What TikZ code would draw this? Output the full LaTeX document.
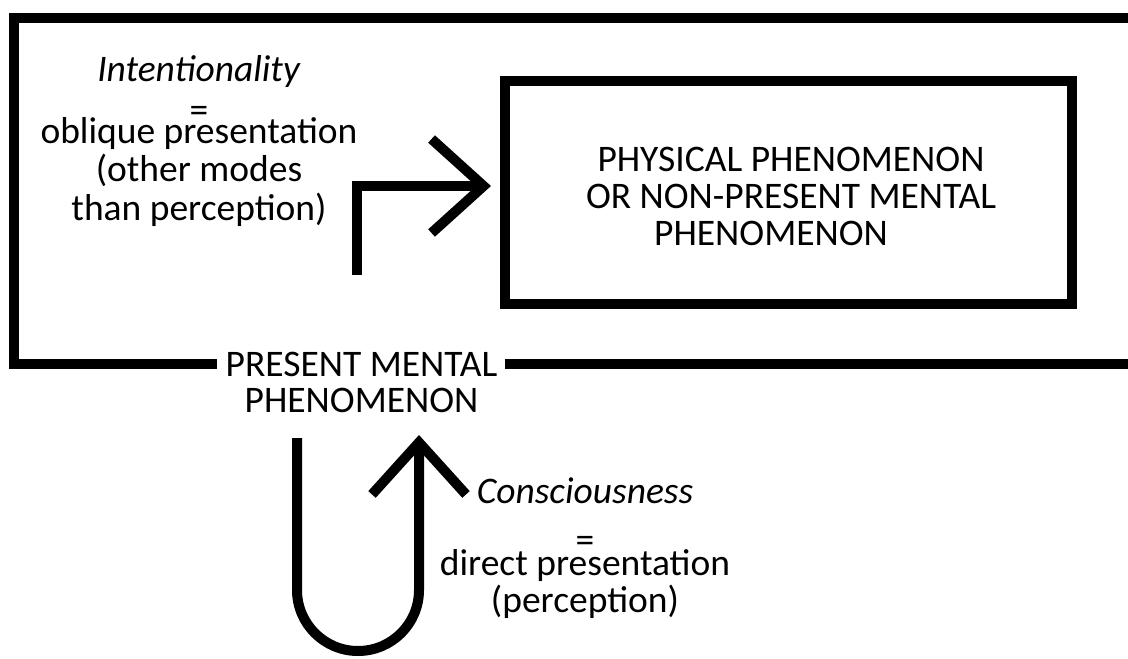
\documentclass[tikz,border=0pt]{standalone}
\usepackage{fontspec}
\setmainfont{Carlito}
\usetikzlibrary{arrows.meta,calc}
\begin{document}
\begin{tikzpicture}[x=1pt,y=-1pt,
  lbl/.style={font=\fontsize{37.5}{37}\selectfont, inner sep=0pt, align=center, anchor=base},
  stroke/.style={line width=10pt, draw=black},
  arr/.style={stroke, line join=miter, -{Straight Barb[length=52pt, width=94pt]}}]
\useasboundingbox (0,0) rectangle (1128,659);
% labels (anchor base = baseline of last line)
\node[lbl, font=\fontsize{37.5}{35.5}\selectfont] (pm) at (361.5,412) {PRESENT MENTAL\\PHENOMENON};
\node[lbl, font=\fontsize{37.5}{38.5}\selectfont] (intent) at (199,220) {\textit{Intentionality}\\[2.5pt]=\\[-17.5pt]oblique presentation\\(other modes\\than perception)};
\node[lbl] (consc) at (585,612) {\textit{Consciousness}\\[12pt]=\\[-14pt]direct presentation\\(perception)};
% inner box
\node[stroke, minimum width=567pt, minimum height=223pt, inner sep=0pt] (phys) at (788.5,192.5) {};
\node[lbl] (physlbl) at (791,245) {PHYSICAL PHENOMENON\\OR NON-PRESENT MENTAL\\PHENOMENON\hspace*{40pt}};
% outer frame
\coordinate (frTR) at (1128,18);
\coordinate (frTL) at (14,18);
\coordinate (frBL) at (14,364);
\coordinate (frBR) at (1128,364);
\coordinate (gapL) at ($(pm.west |- frBL)+(-9,0)$);
\coordinate (gapR) at ($(pm.east |- frBL)+(8,0)$);
\draw[stroke, line join=miter] (frTR) -- (frTL) -- (frBL) -- (gapL);
\draw[stroke] (gapR) -- (frBR);
% intentionality arrow
\coordinate (iS) at (357,275);
\coordinate (iE) at (491,186);
\draw[arr] (iS) |- (iE);
% consciousness loop
\coordinate (uS) at (297,438);
\coordinate (uE) at (419,435);
\draw[arr] (uS) -- (297,590) arc[start angle=180, end angle=0, radius=61] -- (uE);
\end{tikzpicture}
\end{document}
